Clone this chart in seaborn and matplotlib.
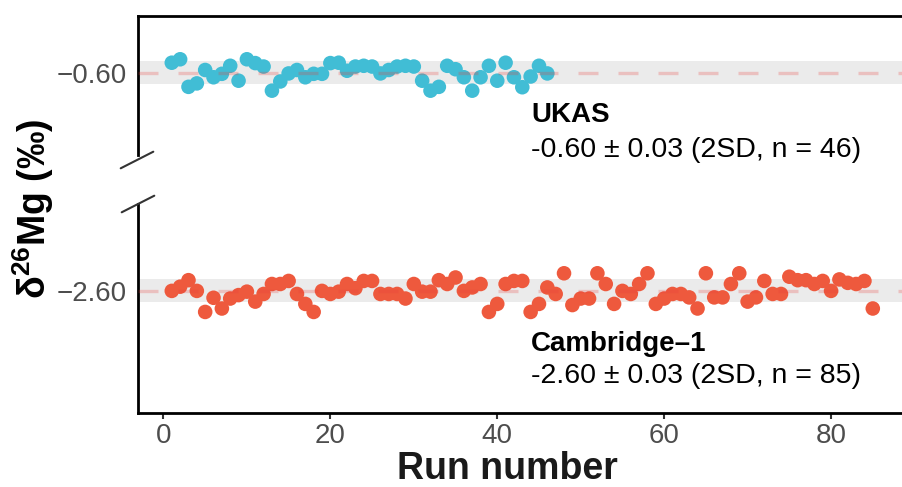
import numpy as np
import pandas as pd
import matplotlib
matplotlib.use("Agg")
import matplotlib.pyplot as plt
import seaborn as sns
from matplotlib.lines import Line2D

sns.set_theme(style="white")
plt.rcParams['font.family'] = ['Liberation Sans', 'DejaVu Sans']
plt.rcParams['mathtext.fontset'] = 'custom'
plt.rcParams['mathtext.rm'] = 'Liberation Sans'
plt.rcParams['mathtext.bf'] = 'Liberation Sans:bold'
plt.rcParams['text.color'] = 'black'

# UKAS runs (1..46)
ukas_vals = [-0.574, -0.565, -0.637, -0.628, -0.593, -0.612, -0.603, -0.582, -0.621, -0.565,
             -0.575, -0.584, -0.647, -0.623, -0.602, -0.593, -0.612, -0.603, -0.603, -0.575,
             -0.574, -0.595, -0.584, -0.582, -0.584, -0.602, -0.593, -0.584, -0.582, -0.584,
             -0.621, -0.647, -0.637, -0.582, -0.591, -0.612, -0.647, -0.612, -0.582, -0.621,
             -0.574, -0.612, -0.638, -0.610, -0.582, -0.602]

# Cambridge-1 runs (1..85)
cam_vals = [-2.600, -2.589, -2.572, -2.600, -2.655, -2.618, -2.646, -2.620, -2.611, -2.602,
            -2.628, -2.608, -2.582, -2.582, -2.574, -2.608, -2.634, -2.655, -2.600, -2.608,
            -2.602, -2.582, -2.593, -2.574, -2.574, -2.608, -2.608, -2.608, -2.620, -2.582,
            -2.602, -2.602, -2.572, -2.582, -2.565, -2.600, -2.591, -2.582, -2.655, -2.634,
            -2.582, -2.574, -2.574, -2.655, -2.634, -2.591, -2.608, -2.554, -2.637, -2.620,
            -2.620, -2.554, -2.582, -2.634, -2.600, -2.608, -2.582, -2.554, -2.634, -2.620,
            -2.608, -2.608, -2.617, -2.646, -2.554, -2.617, -2.617, -2.582, -2.554, -2.628,
            -2.617, -2.574, -2.608, -2.608, -2.563, -2.572, -2.572, -2.582, -2.574, -2.600,
            -2.570, -2.579, -2.582, -2.574, -2.646]

ukas_mean, ukas_2sd = -0.60, 0.03
cam_mean, cam_2sd = -2.60, 0.03

ukas = pd.DataFrame({'run': np.arange(1, len(ukas_vals) + 1), 'd26Mg': ukas_vals})
cam = pd.DataFrame({'run': np.arange(1, len(cam_vals) + 1), 'd26Mg': cam_vals})

blue = '#41BDD5'
red = '#EE593D'
W, H = 902, 487

fig = plt.figure(figsize=(W / 100, H / 100), dpi=100)
ax_top = fig.add_axes([137.5 / W, 1 - 155 / H, 1 - 137.5 / W, (155 - 16) / H])
ax_bot = fig.add_axes([137.5 / W, 1 - 413 / H, 1 - 137.5 / W, (413 - 204) / H])

xlim = (-3.11, 88.5)


def panel(ax, df, mean, sd, color, ylim):
    ax.axhspan(mean - sd, mean + sd, color='#EBEBEB', zorder=0, lw=0)
    sns.scatterplot(data=df, x='run', y='d26Mg', ax=ax, color=color, s=110,
                    edgecolor='none', linewidth=0, zorder=2, legend=False)
    ax.axhline(mean, color='#E8413C', alpha=0.25, lw=2.4, dashes=(6, 6), zorder=3)
    ax.set_xlim(*xlim)
    ax.set_ylim(*ylim)
    ax.set_yticks([mean])
    ax.set_yticklabels(['\u2212%.2f' % abs(mean)])
    ax.set_xlabel('')
    ax.set_ylabel('')
    ax.tick_params(axis='y', length=4.5, width=1.5, color='#333333',
                   labelsize=20, labelcolor='#4D4D4D', pad=3)
    for s in ax.spines.values():
        s.set_linewidth(2.0)
        s.set_color('black')
    ax.spines['right'].set_visible(False)
    ax.set_facecolor('none')


panel(ax_top, ukas, ukas_mean, ukas_2sd, blue, (-0.815, -0.452))
panel(ax_bot, cam, cam_mean, cam_2sd, red, (-2.919, -2.373))

ax_top.spines['bottom'].set_visible(False)
ax_top.set_xticks([])
ax_bot.spines['top'].set_visible(False)
ax_bot.set_xticks([0, 20, 40, 60, 80])
ax_bot.tick_params(axis='x', bottom=True, length=4.5, width=1.5, color='#333333',
                   labelsize=20, labelcolor='#4D4D4D', pad=3)

# annotations
ax_top.text(44.07, -0.7295, 'UKAS', fontsize=20, fontweight='bold', va='baseline', ha='left')
ax_top.text(44.07, -0.819, '-0.60 \u00b1 0.03 (2SD, n = 46)', fontsize=20.5,
            va='baseline', ha='left', clip_on=False)
ax_bot.text(44.07, -2.757, 'Cambridge\u20131', fontsize=20, fontweight='bold', va='baseline', ha='left')
ax_bot.text(44.07, -2.8415, '-2.60 \u00b1 0.03 (2SD, n = 85)', fontsize=20.5,
            va='baseline', ha='left')

# axis break marks
for (x0, y0, x1, y1) in [(120.7, 168.3, 153.3, 151.7), (121.7, 212.3, 154.3, 195.7)]:
    fig.add_artist(Line2D([x0 / W, x1 / W], [1 - y0 / H, 1 - y1 / H],
                          color='#333333', lw=1.5, transform=fig.transFigure))

fig.text(33 / W, 1 - 209 / H, '\u03b4$^{\\mathbf{26}}$Mg (\u2030)', rotation=90,
         fontsize=27, fontweight='bold', ha='center', va='center')
fig.text(507 / W, 1 - 469 / H, 'Run number', fontsize=27, fontweight='bold',
         ha='center', va='center', color='#1A1A1A')

fig.savefig('out.png', dpi=100)
plt.close(fig)
